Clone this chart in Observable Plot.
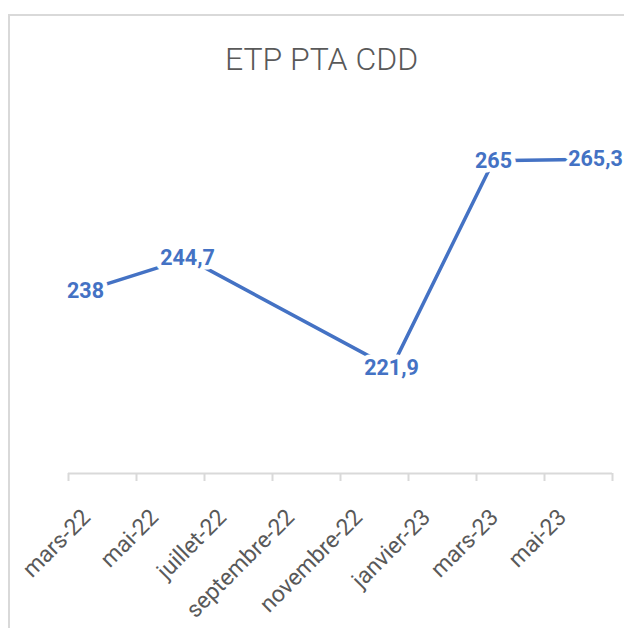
<!DOCTYPE html>
<html>
<head>
<meta charset="utf-8">
<script src="https://cdn.jsdelivr.net/npm/d3@7"></script>
<script src="https://cdn.jsdelivr.net/npm/@observablehq/plot@0.6"></script>
<style>
  html, body { margin: 0; padding: 0; background: #fff; }
  #wrap { position: relative; width: 624px; height: 628px; overflow: hidden; }
  #border { position: absolute; left: 8px; top: 14px; width: 700px; height: 700px;
            border: 2px solid #d9d9d9; box-sizing: border-box; }
  #chart { position: absolute; left: 0; top: 0; }
</style>
</head>
<body>
<div id="wrap"><div id="border"></div><div id="chart"></div></div>
<script>
const title = "ETP PTA CDD";
const months = ["2022-03", "2022-06", "2022-12", "2023-03", "2023-06"];
const values = [238, 244.7, 221.9, 265, 265.3];
const tickLabels = ["mars-22", "mai-22", "juillet-22", "septembre-22", "novembre-22", "janvier-23", "mars-23", "mai-23"];
const axisStart = "2022-03";
const axisMonths = 16;

const monthIndex = (s) => {
  const [y, m] = s.split("-").map(Number);
  const [y0, m0] = axisStart.split("-").map(Number);
  return (y - y0) * 12 + (m - m0);
};
const data = months.map((m, i) => ({x: monthIndex(m) + 0.5, y: values[i], label: String(values[i]).replace(".", ",")}));
const ticks = d3.range(0, axisMonths + 1, 2);
const labelData = tickLabels.map((t, i) => ({x: 2 * i + 1, t}));

const blue = "#4472c4";
const grey = "#595959";

const chart = Plot.plot({
  width: 624,
  height: 628,
  marginLeft: 68,
  marginRight: 12,
  marginTop: 88,
  marginBottom: 155,
  style: {background: "transparent", fontFamily: "Roboto, sans-serif"},
  x: {domain: [0, axisMonths], axis: null},
  y: {domain: [200, 280], axis: null},
  marks: [
    Plot.ruleY([200], {stroke: "#d9d9d9", strokeWidth: 2}),
    Plot.axisX({ticks, tickFormat: () => "", tickSize: 8, label: null, stroke: "#d9d9d9", strokeWidth: 2, strokeOpacity: 1}),
    Plot.text(labelData, {x: "x", text: "t", frameAnchor: "bottom", dy: 40, dx: -16, rotate: -45,
      textAnchor: "end", lineAnchor: "middle", fill: grey, fontSize: 23}),
    Plot.line(data, {x: "x", y: "y", stroke: blue, strokeWidth: 3.5}),
    Plot.text(data, {x: "x", y: "y", text: "label", fill: blue, fontWeight: "bold", fontSize: 21.5,
      stroke: "white", strokeWidth: 9, paintOrder: "stroke", lineAnchor: "middle"}),
    Plot.text([title], {frameAnchor: "top", dy: -29, dx: -19, text: d => d, fill: grey,
      fontSize: 32, fontWeight: 300, lineAnchor: "middle"})
  ]
});
document.getElementById("chart").appendChild(chart);
</script>
</body>
</html>
